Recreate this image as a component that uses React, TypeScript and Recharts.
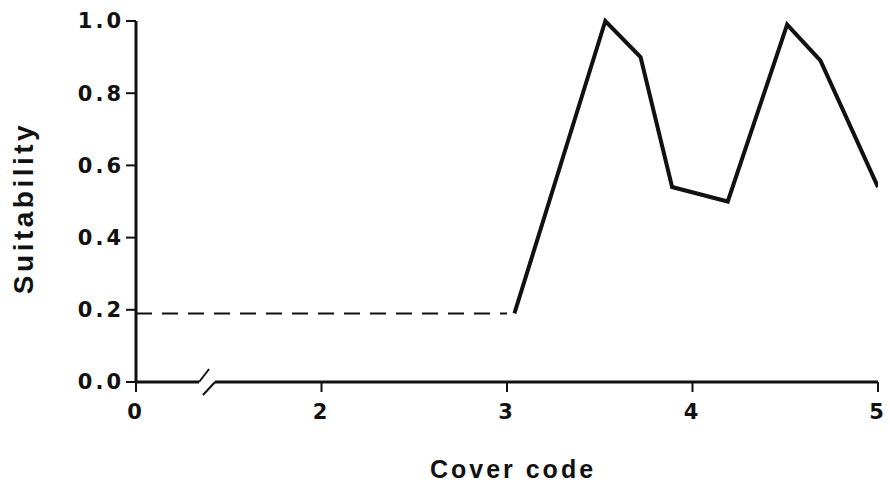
import { LineChart, Line, XAxis, YAxis, ReferenceLine, Label } from 'recharts';

// x positions on the broken axis: position 1 carries the "0" label
const xTicks = [1, 2, 3, 4, 5];
const xTickLabels = ['0', '2', '3', '4', '5'];
const yTicks = [0, 0.2, 0.4, 0.6, 0.8, 1.0];

const dashedX = [1, 3];
const dashedY = [0.19, 0.19];

const solidX = [3.04, 3.53, 3.72, 3.89, 4.19, 4.51, 4.69, 5.0];
const solidY = [0.19, 1.0, 0.9, 0.54, 0.5, 0.99, 0.89, 0.54];

const dashedData = dashedX.map((x, i) => ({ x, y: dashedY[i] }));
const solidData = solidX.map((x, i) => ({ x, y: solidY[i] }));

const ink = '#111';
const tickFont = { fontFamily: 'DejaVu Sans, sans-serif', fontSize: 21, fontWeight: 700, fill: ink, letterSpacing: 3 };
const titleFont = { fontFamily: 'Liberation Sans, Arial, sans-serif', fontWeight: 700, fill: ink };

export default function App() {
  return (
    <div style={{ position: 'absolute', left: 0, top: 0, background: '#fff' }}>
      <LineChart width={890} height={489} margin={{ top: 21, right: 12, left: 0, bottom: 0 }}>
        <XAxis
          type="number"
          dataKey="x"
          domain={[1, 5]}
          ticks={xTicks}
          tickFormatter={(v: number) => xTickLabels[xTicks.indexOf(v)] ?? ''}
          axisLine={false}
          tickLine={{ stroke: ink, strokeWidth: 2 }}
          tickSize={10}
          tickMargin={12}
          tick={tickFont}
          height={107}
          allowDataOverflow
        >
          <Label
            value="Cover code"
            position="insideBottom"
            offset={11}
            dx={6}
            style={{ ...titleFont, fontSize: 25, letterSpacing: 3 }}
          />
        </XAxis>
        <YAxis
          type="number"
          domain={[0, 1]}
          ticks={yTicks}
          tickFormatter={(v: number) => v.toFixed(1)}
          axisLine={{ stroke: ink, strokeWidth: 3 }}
          tickLine={{ stroke: ink, strokeWidth: 2 }}
          tickSize={10}
          tickMargin={2}
          tick={tickFont}
          width={136}
        >
          <Label
            content={() => (
              <text
                transform="translate(33,208) rotate(-90)"
                textAnchor="middle"
                style={{ ...titleFont, fontSize: 28, letterSpacing: 3.5 }}
              >
                Suitability
              </text>
            )}
          />
        </YAxis>
        {/* x axis drawn in two pieces with a break */}
        <ReferenceLine segment={[{ x: 1, y: 0 }, { x: 1.34, y: 0 }]} stroke={ink} strokeWidth={3} ifOverflow="visible" />
        <ReferenceLine segment={[{ x: 1.426, y: 0 }, { x: 5, y: 0 }]} stroke={ink} strokeWidth={3} ifOverflow="visible" />
        <ReferenceLine segment={[{ x: 1.34, y: 0 }, { x: 1.394, y: 0.036 }]} stroke={ink} strokeWidth={2} ifOverflow="visible" />
        <ReferenceLine segment={[{ x: 1.361, y: -0.036 }, { x: 1.426, y: 0 }]} stroke={ink} strokeWidth={2} ifOverflow="visible" />
        <Line
          data={dashedData}
          dataKey="y"
          type="linear"
          stroke={ink}
          strokeWidth={2}
          strokeDasharray="16 10"
          dot={false}
          isAnimationActive={false}
        />
        <Line
          data={solidData}
          dataKey="y"
          type="linear"
          stroke={ink}
          strokeWidth={4}
          strokeLinejoin="miter"
          dot={false}
          isAnimationActive={false}
        />
      </LineChart>
    </div>
  );
}
